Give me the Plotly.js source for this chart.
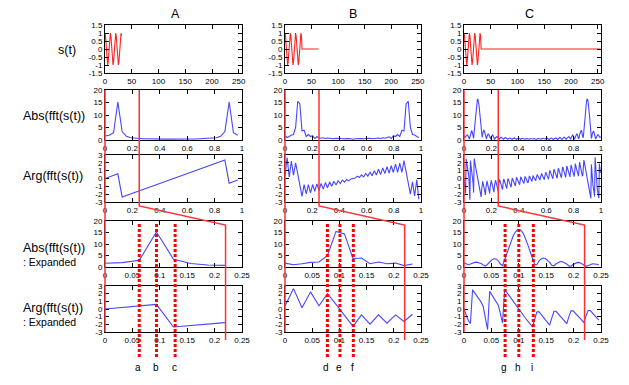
<!DOCTYPE html>
<html><head><meta charset="utf-8">
<script src="https://cdn.plot.ly/plotly-3.0.1.min.js"></script>
<style>html,body{margin:0;padding:0;background:#fff;}#chart{width:629px;height:385px;}</style>
</head><body><div id="chart"></div>
<script>
// ================= DATA =================
const columnNames = ['A', 'B', 'C'];
const rowNames = ['s(t)', 'Abs(fft(s(t))', 'Arg(fft(s(t))', 'Abs(fft(s(t))', 'Arg(fft(s(t))'];
const expandedNote = ': Expanded';

// signal samples (t = 0..31), then zero padding end points for B and C
const tSamples = [0,1,2,3,4,5,6,7,8,9,10,11,12,13,14,15,16,17,18,19,20,21,22,23,24,25,26,27,28,29,30,31];
const sSamples = [1,0.81,0.31,-0.31,-0.81,-1,-0.81,-0.31,0.31,0.81,
                  1,0.81,0.31,-0.31,-0.81,-1,-0.81,-0.31,0.31,0.81,
                  1,0.81,0.31,-0.31,-0.81,-1,-0.81,-0.31,0.31,0.81,
                  1,0.81];
const tPadB = [32, 63], sPadB = [0, 0];
const tPadC = [32, 255], sPadC = [0, 0];

// A: 32-point FFT
const absA = [1.6,1.9,2.9,15.2,3.4,1.5,0.9,0.7, 0.6,0.5,0.5,0.4,0.4,0.4,0.35,0.35,
              0.3,0.35,0.35,0.4,0.4,0.4,0.5,0.5, 0.6,0.7,0.9,1.5,3.4,15.2,2.9,1.9];
const argA = [0,0.2,0.4,0.6,-2.35,-2.17,-1.98,-1.78, -1.58,-1.38,-1.18,-0.98,-0.78,-0.59,-0.39,-0.2,
              0,0.2,0.39,0.59,0.78,0.98,1.18,1.38, 1.58,1.78,1.98,2.17,2.35,-0.6,-0.4,-0.2];

// B: 64-point FFT
const absB = [1.7,1.0,1.4,2.0,2.2,5.0,15.5,14.4, 3.6,3.9,1.4,2.2,1.4,1.7,0.6,1.3,
              0.9,0.7,0.9,0.6,0.8,0.6,0.7,0.5, 0.7,0.5,0.6,0.5,0.6,0.5,0.6,0.5,
              0.3,
              0.5,0.6,0.5,0.6,0.5,0.6,0.5,0.7, 0.5,0.7,0.6,0.8,0.6,0.9,0.7,0.9,
              1.3,0.6,1.7,1.4,2.2,1.4,3.9,3.6, 14.4,15.5,5.0,2.2,2.0,1.4,1.0];
const argB = [0.39,2.66,0.17,2.23,0.43,2.0,0.6,-0.85, -2.27,-0.77,-1.97,-0.77,-1.85,-0.77,-1.63,-0.69,
              -1.5,-0.62,-1.35,-0.52,-1.18,-0.44,-1.0,-0.36, -0.82,-0.28,-0.64,-0.2,-0.46,-0.12,-0.3,-0.05,
              0,
              0.05,0.3,0.12,0.46,0.2,0.64,0.28,0.82, 0.36,1.0,0.44,1.18,0.52,1.35,0.62,1.5,
              0.69,1.63,0.77,1.85,0.77,1.97,0.77,2.27, 0.85,-0.6,-2.0,-0.43,-2.23,-0.17,-2.66];

// C: 256-point FFT
const absC = [1.8,1.4,1.0,1.3,1.7,2.0,2.1,1.9, 1.5,0.9,0.4,1.2,2.3,3.1,3.6,3.5,
              2.7,1.3,0.6,3.2,5.9,8.7,11.3,13.6, 15.2,16.2,16.3,15.6,14.0,11.8,9.2,6.4,
              3.6,1.2,1.0,2.6,3.5,3.9,3.7,3.0, 2.0,0.8,0.5,1.4,2.1,2.4,2.3,1.9,
              1.3,0.5,0.4,1.1,1.7,2.0,1.9,1.5, 0.9,0.3,0.5,1.0,1.4,1.4,1.2,1.0,
              0.7,0.3,0.3,0.7,1.0,1.1,1.0,0.8, 0.5,0.2,0.3,0.6,0.9,1.0,0.9,0.7,
              0.4,0.2,0.3,0.6,0.8,0.9,0.8,0.6, 0.4,0.2,0.3,0.5,0.7,0.8,0.8,0.6,
              0.4,0.2,0.3,0.5,0.7,0.8,0.7,0.6, 0.4,0.2,0.3,0.5,0.6,0.7,0.7,0.5,
              0.3,0.2,0.3,0.5,0.6,0.7,0.6,0.5, 0.3,0.2,0.3,0.4,0.6,0.6,0.5,0.4,
              0.2,
              0.4,0.5,0.6,0.6,0.4,0.3,0.2,0.3, 0.5,0.6,0.7,0.6,0.5,0.3,0.2,0.3,
              0.5,0.7,0.7,0.6,0.5,0.3,0.2,0.4, 0.6,0.7,0.8,0.7,0.5,0.3,0.2,0.4,
              0.6,0.8,0.8,0.7,0.5,0.3,0.2,0.4, 0.6,0.8,0.9,0.8,0.6,0.3,0.2,0.4,
              0.7,0.9,1.0,0.9,0.6,0.3,0.2,0.5, 0.8,1.0,1.1,1.0,0.7,0.3,0.3,0.7,
              1.0,1.2,1.4,1.4,1.0,0.5,0.3,0.9, 1.5,1.9,2.0,1.7,1.1,0.4,0.5,1.3,
              1.9,2.3,2.4,2.1,1.4,0.5,0.8,2.0, 3.0,3.7,3.9,3.5,2.6,1.0,1.2,3.6,
              6.4,9.2,11.8,14.0,15.6,16.3,16.2,15.2, 13.6,11.3,8.7,5.9,3.2,0.6,1.3,2.7,
              3.5,3.6,3.1,2.3,1.2,0.4,0.9,1.5, 1.9,2.1,2.0,1.7,1.3,1.0,1.4];
const argC = [0,-0.7,-1.5,-1.9,2.5,2.1,1.7,1.3, 0.9,0.3,-1.2,-2.7,2.3,1.8,1.3,0.9,
              0.5,-0.6,-1.8,2.55,2.15,1.75,1.4,1.0, 0.6,0.25,-0.15,-0.55,-0.9,-1.3,-1.65,-2.05,
              -2.35,-1.4,-0.4,-0.35,-0.7,-1.05,-1.4,-1.75, -2.1,-1.2,-0.3,-0.3,-0.65,-1.0,-1.3,-1.6,
              -1.9,-1.0,-0.25,-0.25,-0.55,-0.9,-1.2,-1.5, -1.75,-0.9,-0.2,-0.2,-0.5,-0.85,-1.15,-1.45,
              -1.6,-0.8,-0.14,-0.21,-0.5,-0.8,-1.09,-1.38, -1.43,-0.69,-0.09,-0.16,-0.43,-0.69,-0.96,-1.23,
              -1.28,-0.59,-0.03,-0.09,-0.34,-0.59,-0.84,-1.09, -1.12,-0.49,0.03,-0.03,-0.26,-0.49,-0.72,-0.95,
              -0.96,-0.38,0.1,0.05,-0.17,-0.38,-0.59,-0.8, -0.8,-0.28,0.15,0.1,-0.09,-0.28,-0.47,-0.66,
              -0.64,-0.18,0.2,0.16,-0.01,-0.18,-0.35,-0.51, -0.48,-0.07,0.27,0.23,0.08,-0.07,-0.22,-0.37,
              0,
              0.37,0.22,0.07,-0.08,-0.23,-0.27,0.07,0.48, 0.51,0.35,0.18,0.01,-0.16,-0.2,0.18,0.64,
              0.66,0.47,0.28,0.09,-0.1,-0.15,0.28,0.8, 0.8,0.59,0.38,0.17,-0.05,-0.1,0.38,0.96,
              0.95,0.72,0.49,0.26,0.03,-0.03,0.49,1.12, 1.09,0.84,0.59,0.34,0.09,0.03,0.59,1.28,
              1.23,0.96,0.69,0.43,0.16,0.09,0.69,1.43, 1.38,1.09,0.8,0.5,0.21,0.14,0.8,1.6,
              1.45,1.15,0.85,0.5,0.2,0.2,0.9,1.75, 1.5,1.2,0.9,0.55,0.25,0.25,1.0,1.9,
              1.6,1.3,1.0,0.65,0.3,0.3,1.2,2.1, 1.75,1.4,1.05,0.7,0.35,0.4,1.4,2.35,
              2.05,1.65,1.3,0.9,0.55,0.15,-0.25,-0.6, -1.0,-1.4,-1.75,-2.15,-2.55,1.8,0.6,-0.5,
              -0.9,-1.3,-1.8,-2.3,2.7,1.2,-0.3,-0.9, -1.3,-1.7,-2.1,-2.5,1.9,1.5,0.7];

// marked frequencies on the expanded panels
const marksA = [0.0625, 0.094, 0.128], markLabelsA = ['a', 'b', 'c'];
const marksB = [0.078, 0.101, 0.1256], markLabelsB = ['d', 'e', 'f'];
const marksC = [0.075, 0.1, 0.1265], markLabelsC = ['g', 'h', 'i'];
const zoomCut = 0.25;       // part of the full spectrum that is expanded
const expandedEdge = 0.22;  // where the red zoom guide meets the expanded panels

// tick labels
const sTickVals = [0, 50, 100, 150, 200, 250], sTickText = ['0', '50', '100', '150', '200', '250'];
const fTickVals = [0, 0.2, 0.4, 0.6, 0.8, 1], fTickText = ['0', '0.2', '0.4', '0.6', '0.8', '1'];
const eTickVals = [0, 0.05, 0.1, 0.15, 0.2, 0.25], eTickText = ['0', '0.05', '0.1', '0.15', '0.2', '0.25'];
const sYVals = [-1.5, -1, -0.5, 0, 0.5, 1, 1.5], sYText = ['-1.5', '-1', '-0.5', '0', '0.5', '1', '1.5'];
const absYVals = [0, 5, 10, 15, 20], absYText = ['0', '5', '10', '15', '20'];
const argYVals = [-3, -2, -1, 0, 1, 2, 3], argYText = ['-3', '-2', '-1', '0', '1', '2', '3'];

// ================= LAYOUT / DRAWING =================
const W = 629, H = 385;
const FONT = 'Liberation Sans, Arial, sans-serif';
const colPx = [[105, 242], [285, 421], [464, 601]];
const rowPx = [[25, 73], [90, 140], [155, 202], [221, 267], [286, 332]];
const px2x = p => p / W;
const py2y = p => 1 - p / H;

const columns = [
  {absv: absA, argv: argA, t: tSamples, s: sSamples, marks: marksA, labels: markLabelsA},
  {absv: absB, argv: argB, t: tSamples.concat(tPadB), s: sSamples.concat(sPadB), marks: marksB, labels: markLabelsB},
  {absv: absC, argv: argC, t: tSamples.concat(tPadC), s: sSamples.concat(sPadC), marks: marksC, labels: markLabelsC}
];

const rowX = [
  {range: [0, 256], vals: sTickVals, text: sTickText},
  {range: [0, 1], vals: fTickVals, text: fTickText},
  {range: [0, 1], vals: fTickVals, text: fTickText},
  {range: [0, 0.25], vals: eTickVals, text: eTickText},
  {range: [0, 0.25], vals: eTickVals, text: eTickText}
];
const rowYax = [
  {range: [-1.5, 1.5], vals: sYVals, text: sYText},
  {range: [0, 20], vals: absYVals, text: absYText},
  {range: [-3, 3], vals: argYVals, text: argYText},
  {range: [0, 20], vals: absYVals, text: absYText},
  {range: [-3, 3], vals: argYVals, text: argYText}
];

const traces = [];
const layout = {
  width: W, height: H, margin: {l: 0, r: 0, t: 0, b: 0},
  paper_bgcolor: '#fff', plot_bgcolor: '#fff', showlegend: false,
  font: {family: FONT, color: '#000'},
  shapes: [], annotations: []
};

const blue = '#4646ff';
const red = '#ff2020';

function axId(r, c) { return r * 3 + c + 1; }

columns.forEach((col, c) => {
  const N = col.absv.length;
  const series = [
    {x: col.t, y: col.s, color: red},
    {y: col.absv, color: blue},
    {y: col.argv, color: blue},
    {y: col.absv.slice(0, N / 4), color: blue},
    {y: col.argv.slice(0, N / 4), color: blue}
  ];
  series.forEach((ser, r) => {
    const id = axId(r, c);
    const tr = {
      type: 'scatter', mode: 'lines', y: ser.y,
      line: {color: ser.color, width: 1.1},
      xaxis: 'x' + (id === 1 ? '' : id), yaxis: 'y' + (id === 1 ? '' : id),
      hoverinfo: 'skip'
    };
    if (ser.x) tr.x = ser.x; else { tr.x0 = 0; tr.dx = 1 / N; }
    traces.push(tr);

    const common = {
      showline: true, linecolor: '#000', linewidth: 1, mirror: 'ticks',
      ticks: 'inside', ticklen: 4, tickwidth: 1, tickcolor: '#000',
      showgrid: false, zeroline: false, fixedrange: true,
      tickfont: {family: FONT, size: 8, color: '#000'}, tickmode: 'array'
    };
    layout['xaxis' + (id === 1 ? '' : id)] = Object.assign({}, common, {
      domain: [px2x(colPx[c][0]), px2x(colPx[c][1])],
      anchor: 'y' + (id === 1 ? '' : id),
      range: rowX[r].range, tickvals: rowX[r].vals, ticktext: rowX[r].text
    });
    layout['yaxis' + (id === 1 ? '' : id)] = Object.assign({}, common, {
      domain: [py2y(rowPx[r][1]), py2y(rowPx[r][0])],
      anchor: 'x' + (id === 1 ? '' : id),
      range: rowYax[r].range, tickvals: rowYax[r].vals, ticktext: rowYax[r].text
    });
  });

  // red zoom guide (paper coordinates derived from the axis domains)
  const left = colPx[c][0], wid = colPx[c][1] - colPx[c][0];
  const xCut = left + zoomCut / rowX[1].range[1] * wid;
  const xEdge = left + expandedEdge / rowX[3].range[1] * wid;
  const P = (xp, yp) => px2x(xp) + ',' + py2y(yp);
  layout.shapes.push({
    type: 'path', xref: 'paper', yref: 'paper', layer: 'above',
    path: 'M' + P(left, 90) + ' L' + P(left, 332),
    line: {color: '#ff3030', width: 1.5}
  });
  layout.shapes.push({
    type: 'path', xref: 'paper', yref: 'paper', layer: 'above',
    path: 'M' + P(xCut, 90) + ' L' + P(xCut, 206) + ' L' + P(xEdge, 225) + ' L' + P(xEdge, 340),
    line: {color: '#ff3030', width: 1.5}
  });

  // dotted markers and letters
  const eid = axId(3, c);
  col.marks.forEach((m, i) => {
    layout.shapes.push({
      type: 'line', xref: 'x' + eid, yref: 'paper', layer: 'above',
      x0: m, x1: m, y0: py2y(224), y1: py2y(357),
      line: {color: '#ff0000', width: 3, dash: '3px,2px'}
    });
    layout.annotations.push({
      xref: 'x' + eid, yref: 'paper', x: m, y: py2y(367), xshift: -1,
      text: col.labels[i], showarrow: false, xanchor: 'center', yanchor: 'middle',
      font: {family: FONT, size: 10, color: '#000'}
    });
  });
});

// column titles
const colTitleX = [175.5, 353, 529];
columnNames.forEach((n, c) => layout.annotations.push({
  xref: 'paper', yref: 'paper', x: px2x(colTitleX[c]), y: py2y(14.5), text: n,
  showarrow: false, xanchor: 'center', yanchor: 'middle', font: {family: FONT, size: 12.5, color: '#000'}
}));

// row labels
const rowLabelY = [50, 116, 176, 248, 308];
rowNames.forEach((n, r) => layout.annotations.push({
  xref: 'paper', yref: 'paper', x: r === 0 ? px2x(66.5) : px2x(21), y: py2y(rowLabelY[r]), text: n,
  showarrow: false, xanchor: r === 0 ? 'center' : 'left', yanchor: 'middle',
  font: {family: FONT, size: 12.5, color: '#000'}
}));
[262, 322].forEach(yp => layout.annotations.push({
  xref: 'paper', yref: 'paper', x: px2x(21), y: py2y(yp), text: expandedNote,
  showarrow: false, xanchor: 'left', yanchor: 'middle',
  font: {family: FONT, size: 10.5, color: '#000'}
}));

Plotly.newPlot('chart', traces, layout, {staticPlot: true, displayModeBar: false});
</script>
</body></html>
